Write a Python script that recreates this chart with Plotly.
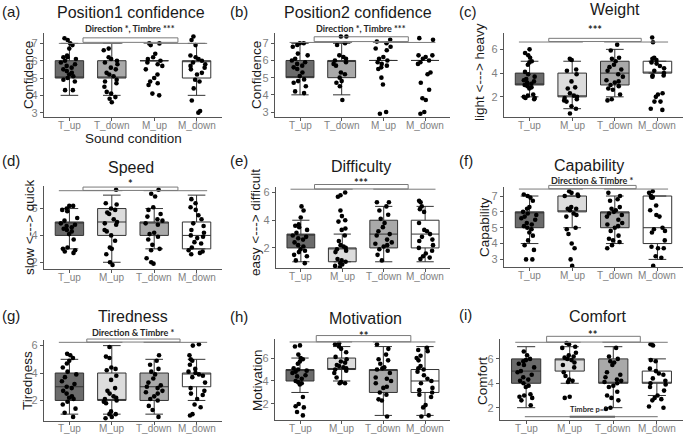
import plotly.graph_objects as go

W, H = 685, 436

# ---------------- categories & colours ----------------
order_a = ["T_up", "T_down", "M_up", "M_down"]          # panels (a), (b)
order_b = ["T_up", "M_up", "T_down", "M_down"]          # panels (c)-(i)
fills = {"T_up": "#6b6b6b", "T_down": "#a9a9a9", "M_up": "#dcdcdc", "M_down": "#ffffff"}

# ---------------- (a) Position1 confidence ----------------
a_q1 = [5, 5, 6, 5]; a_med = [5, 5, 6, 6]; a_q3 = [6, 6, 6, 6]; a_lo = [4, 4, 6, 4]; a_hi = [7, 7, 6, 7]
a_T_up = [7.3, 7.2, 7.0, 6.9, 6.7, 6.3, 6.2, 6.2, 6.1, 6.0, 5.9, 5.8, 5.7, 5.6, 5.5, 5.4, 5.3, 5.2, 5.1, 5.0, 4.9, 4.8, 4.3, 4.3]
a_T_down = [6.7, 6.6, 6.2, 6.1, 6.0, 5.9, 5.8, 5.6, 5.5, 5.3, 5.2, 5.1, 4.9, 4.8, 4.7, 4.5, 4.2, 4.1, 3.9, 3.8, 3.6]
a_M_up = [7.0, 6.9, 7.0, 6.4, 6.2, 6.1, 6.0, 5.9, 5.8, 5.7, 5.5, 5.2, 5.0, 4.8, 4.7, 4.6, 4.1, 4.0]
a_M_down = [7.4, 7.2, 6.9, 6.3, 6.2, 6.1, 6.0, 5.9, 5.8, 5.7, 5.6, 5.5, 5.3, 5.2, 4.9, 4.8, 4.4, 3.7, 3.1, 3.0]

# ---------------- (b) Position2 confidence ----------------
b_q1 = [5, 5, 6, 6]; b_med = [5, 6, 6, 6]; b_q3 = [6, 6, 6, 6]; b_lo = [4, 4, 6, 6]; b_hi = [7, 7, 6, 6]
b_T_up = [7.0, 7.0, 6.9, 6.8, 6.4, 6.3, 6.1, 6.0, 5.9, 5.8, 5.7, 5.6, 5.5, 5.3, 5.1, 4.9, 4.8, 4.7, 4.5, 4.2, 4.1]
b_T_down = [7.4, 7.4, 7.0, 6.9, 6.3, 6.2, 6.1, 6.0, 5.9, 5.8, 5.7, 5.3, 5.2, 5.0, 4.8, 4.7, 4.5, 3.7]
b_M_up = [7.2, 7.1, 7.0, 6.8, 6.7, 6.6, 6.2, 6.1, 6.0, 5.9, 5.8, 5.7, 5.6, 5.5, 5.0, 4.6, 3.0, 2.9]
b_M_down = [7.3, 7.2, 6.3, 6.3, 6.2, 6.1, 6.0, 5.9, 5.8, 5.3, 5.2, 4.7, 4.3, 3.8, 3.7, 3.0, 2.9]

# ---------------- (c) Weight ----------------
c_q1 = [3, 2, 3, 4]; c_med = [3, 2, 4, 4]; c_q3 = [4, 4, 5, 5]; c_lo = [2, 1, 2, 4]; c_hi = [5, 5, 6, 5]
c_T_up = [6.0, 5.7, 5.5, 5.3, 5.0, 4.9, 4.7, 4.1, 3.9, 3.7, 3.5, 3.4, 3.3, 3.2, 3.1, 3.0, 2.9, 2.8, 2.7, 2.2, 2.1, 2.0, 1.9, 1.9, 1.8]
c_M_up = [5.2, 5.1, 4.3, 4.2, 3.9, 3.3, 2.8, 2.7, 2.3, 2.1, 2.0, 1.9, 1.8, 1.7, 1.6, 1.2, 1.0, 0.6]
c_T_down = [6.4, 5.9, 5.3, 5.2, 5.0, 4.7, 4.5, 4.3, 4.2, 3.9, 3.7, 3.4, 3.3, 3.2, 3.0, 2.9, 2.7, 2.6, 2.2, 1.8, 1.7]
c_M_down = [7.0, 6.6, 5.3, 5.2, 5.1, 4.9, 4.8, 4.6, 4.4, 4.2, 4.0, 3.8, 3.8, 3.7, 2.3, 2.2, 2.0, 1.6, 1.6, 1.0, 0.9]

# ---------------- (d) Speed ----------------
d_q1 = [4, 4, 4, 3]; d_med = [5, 5, 5, 4]; d_q3 = [5, 6, 5, 5]; d_lo = [3, 2, 3, 3]; d_hi = [6, 7, 6, 7]
d_T_up = [6.2, 6.2, 6.0, 5.9, 5.8, 5.3, 5.1, 4.9, 4.8, 4.7, 4.6, 4.5, 4.4, 4.3, 4.1, 3.7, 3.1, 3.0, 2.9, 2.8, 2.7]
d_M_up = [7.4, 6.4, 6.3, 6.0, 5.9, 5.7, 5.6, 5.2, 5.0, 4.9, 4.8, 4.4, 4.3, 4.0, 3.6, 3.1, 3.0, 2.6, 2.0, 1.8]
d_T_down = [7.4, 7.1, 6.9, 6.1, 5.9, 5.6, 5.4, 5.2, 5.1, 4.9, 4.8, 4.2, 4.1, 3.9, 3.7, 3.3, 3.0, 2.9, 2.3, 2.0, 1.9]
d_M_down = [6.7, 6.4, 6.1, 5.9, 5.5, 5.2, 4.9, 4.7, 4.4, 4.2, 4.0, 3.9, 3.8, 3.5, 3.4, 3.1, 2.9, 2.8, 2.7, 2.6]

# ---------------- (e) Difficulty ----------------
e_q1 = [2, 1, 2, 2]; e_med = [3, 2, 3, 3]; e_q3 = [3, 2, 4, 4]; e_lo = [1, 1, 1, 1]; e_hi = [4, 3, 5, 5]
e_T_up = [5.0, 4.7, 4.2, 3.7, 3.6, 3.5, 3.3, 3.1, 2.9, 2.8, 2.7, 2.6, 2.4, 2.2, 2.1, 1.9, 1.8, 1.7, 1.5, 1.4, 1.1, 0.9]
e_M_up = [6.0, 5.8, 5.7, 4.7, 4.3, 4.0, 3.9, 3.4, 3.3, 2.9, 2.5, 2.2, 2.1, 2.0, 1.9, 1.8, 1.7, 1.2, 1.1, 1.0, 0.9, 0.8, 0.7, 0.6]
e_T_down = [5.3, 5.3, 5.0, 4.7, 4.4, 4.1, 3.8, 3.5, 3.2, 3.0, 2.9, 2.6, 2.4, 2.3, 2.2, 2.1, 1.9, 1.8, 1.5, 1.1]
e_M_down = [5.4, 5.3, 5.0, 4.8, 4.6, 3.8, 3.3, 3.2, 3.0, 2.8, 2.6, 2.5, 2.2, 2.0, 1.8, 1.6, 1.4, 1.3, 1.2]

# ---------------- (f) Capability ----------------
f_q1 = [5, 6, 5, 4]; f_med = [6, 6, 6, 5]; f_q3 = [6, 7, 6, 7]; f_lo = [4, 5, 4, 3]; f_hi = [7, 7, 7, 7]
f_T_up = [7.1, 7.0, 6.9, 6.7, 6.3, 6.2, 6.0, 5.9, 5.8, 5.7, 5.6, 5.5, 5.3, 5.2, 5.1, 5.0, 4.9, 4.7, 4.5, 4.2, 3.9, 3.6, 3.0, 3.0]
f_M_up = [7.3, 7.2, 7.1, 7.0, 7.0, 6.3, 6.2, 6.2, 6.1, 5.9, 5.8, 5.7, 5.0, 4.9, 4.6, 4.0, 3.7, 3.0, 2.6]
f_T_down = [7.2, 7.0, 6.8, 6.7, 6.3, 6.2, 6.1, 6.0, 5.9, 5.8, 5.7, 5.5, 5.3, 5.2, 5.1, 5.0, 4.8, 4.5, 4.3, 4.2, 4.1, 3.9, 3.7]
f_M_down = [7.3, 7.2, 7.0, 6.9, 6.9, 6.4, 6.1, 5.8, 5.7, 5.0, 4.9, 4.8, 4.7, 4.2, 3.8, 3.7, 3.7, 3.2, 3.1, 2.6]

# ---------------- (g) Tiredness ----------------
g_q1 = [2, 2, 2, 3]; g_med = [3, 2, 3, 4]; g_q3 = [4, 4, 4, 4]; g_lo = [1, 1, 1, 2]; g_hi = [5, 6, 5, 5]
g_T_up = [5.4, 5.3, 5.1, 4.9, 4.7, 4.4, 4.1, 3.9, 3.7, 3.4, 3.2, 3.0, 2.9, 2.7, 2.5, 2.3, 2.2, 2.1, 1.9, 1.7, 1.4, 1.1, 0.8]
g_M_up = [5.9, 5.2, 5.1, 4.4, 4.3, 4.2, 3.8, 3.5, 2.9, 2.7, 2.5, 2.3, 2.2, 2.1, 2.0, 1.9, 1.8, 1.2, 1.0, 1.0, 0.8, 0.7]
g_T_down = [5.3, 4.9, 4.6, 4.3, 4.1, 3.9, 3.6, 3.3, 3.1, 3.0, 2.9, 2.7, 2.6, 2.5, 2.3, 2.1, 2.0, 1.6, 1.3, 0.8]
g_M_down = [6.1, 6.0, 5.3, 5.0, 4.9, 4.6, 4.3, 4.1, 4.0, 3.9, 3.8, 3.7, 3.3, 2.9, 2.7, 2.5, 2.4, 2.1, 1.7, 1.5, 1.0, 0.9]

# ---------------- (h) Motivation ----------------
h_q1 = [4, 5, 3, 3]; h_med = [5, 5, 5, 4]; h_q3 = [5, 6, 5, 5]; h_lo = [3, 4, 1, 1]; h_hi = [6, 7, 7, 7]
h_T_up = [7.1, 7.0, 6.3, 6.0, 5.9, 5.7, 5.5, 5.1, 5.0, 4.9, 4.8, 4.7, 4.5, 4.4, 4.2, 4.0, 3.9, 3.8, 3.7, 2.6, 2.0, 1.8, 1.7, 1.3, 1.0]
h_M_up = [7.3, 7.2, 7.0, 6.8, 6.5, 6.1, 5.9, 5.7, 5.6, 5.4, 5.3, 5.2, 5.1, 5.0, 4.9, 4.7, 4.3, 3.9, 3.8, 3.8]
h_T_down = [7.2, 6.8, 6.3, 5.9, 5.8, 5.5, 5.2, 5.1, 5.0, 4.7, 4.3, 4.2, 4.0, 3.8, 3.5, 3.4, 3.0, 2.8, 2.4, 2.3, 0.9]
h_M_down = [6.9, 6.7, 6.6, 6.2, 6.0, 5.8, 5.3, 5.1, 5.0, 4.8, 4.5, 4.2, 4.0, 3.8, 3.4, 3.2, 3.0, 2.8, 2.6, 1.9, 1.7, 1.0, 0.9]

# ---------------- (i) Comfort ----------------
i_q1 = [4, 5, 4, 4]; i_med = [5, 6, 4, 4]; i_q3 = [6, 6, 6, 5]; i_lo = [2, 4, 2, 3]; i_hi = [7, 7, 7, 6]
i_T_up = [6.6, 6.3, 6.0, 5.9, 5.8, 5.6, 5.5, 5.3, 5.0, 4.9, 4.7, 4.5, 4.3, 4.2, 4.0, 3.8, 3.7, 3.1, 3.0, 2.9, 2.8, 2.6, 2.2]
i_M_up = [7.3, 7.2, 7.0, 6.9, 6.5, 6.3, 6.2, 6.1, 6.0, 5.9, 5.7, 5.5, 5.3, 4.9, 4.6, 4.3, 4.2, 4.1, 2.9, 2.8]
i_T_down = [6.9, 6.2, 6.0, 5.8, 5.7, 5.5, 4.9, 4.7, 4.5, 4.3, 4.2, 4.1, 4.0, 3.8, 3.7, 3.3, 3.0, 2.8, 2.6, 2.0, 1.9]
i_M_down = [7.2, 7.2, 7.1, 5.9, 5.8, 5.2, 5.0, 4.8, 4.7, 4.4, 4.2, 4.0, 3.9, 3.7, 3.4, 3.0, 2.8, 2.7, 2.6, 2.1, 2.0]

titles = ["Position1 confidence", "Position2 confidence", "Weight", "Speed", "Difficulty",
          "Capability", "Tiredness", "Motivation", "Comfort"]
ytitles = ["Confidence", "Confidence", "light <---> heavy", "slow <---> quick", "easy <---> difficult",
           "Capability", "Tiredness", "Motivation", "Comfort"]
labels = ["(a)", "(b)", "(c)", "(d)", "(e)", "(f)", "(g)", "(h)", "(i)"]
sig_texts = ["Direction *, Timbre ***", "Direction *, Timbre ***", "***", "*", "***",
             "Direction & Timbre *", "Direction & Timbre *", "**", "**"]

stats = [
    (order_a, a_q1, a_med, a_q3, a_lo, a_hi, [a_T_up, a_T_down, a_M_up, a_M_down]),
    (order_a, b_q1, b_med, b_q3, b_lo, b_hi, [b_T_up, b_T_down, b_M_up, b_M_down]),
    (order_b, c_q1, c_med, c_q3, c_lo, c_hi, [c_T_up, c_M_up, c_T_down, c_M_down]),
    (order_b, d_q1, d_med, d_q3, d_lo, d_hi, [d_T_up, d_M_up, d_T_down, d_M_down]),
    (order_b, e_q1, e_med, e_q3, e_lo, e_hi, [e_T_up, e_M_up, e_T_down, e_M_down]),
    (order_b, f_q1, f_med, f_q3, f_lo, f_hi, [f_T_up, f_M_up, f_T_down, f_M_down]),
    (order_b, g_q1, g_med, g_q3, g_lo, g_hi, [g_T_up, g_M_up, g_T_down, g_M_down]),
    (order_b, h_q1, h_med, h_q3, h_lo, h_hi, [h_T_up, h_M_up, h_T_down, h_M_down]),
    (order_b, i_q1, i_med, i_q3, i_lo, i_hi, [i_T_up, i_M_up, i_T_down, i_M_down]),
]

# ---------------- layout geometry (pixels) ----------------
geo = [
    (44, 222, 33, 117, [2.75, 7.6], [3, 4, 5, 6, 7]),
    (275, 450, 33, 117, [2.71, 7.6], [3, 4, 5, 6, 7]),
    (504, 683, 33, 117, [0.3, 7.38], [2, 4, 6]),
    (44, 222, 186, 269, [1.5, 7.68], [2, 4, 6]),
    (276, 450, 187, 268, [0.55, 6.4], [2, 4, 6]),
    (504, 683, 187, 267, [2.52, 7.57], [3, 4, 5, 6, 7]),
    (44, 222, 340, 421, [0.5, 6.41], [2, 4, 6]),
    (275, 450, 339, 420, [0.6, 7.66], [2, 4, 6]),
    (500, 683, 339, 420, [0.99, 7.63], [2, 4, 6]),
]
title_pos = [(131, 13), (358, 13), (615, 10), (131, 167), (361, 166), (589, 165), (133, 316), (365, 318), (597, 316)]
label_pos = [(0, 11), (228, 11), (457, 11), (0, 161), (228, 160), (457, 161), (0, 315), (228, 316), (457, 314)]
ytitle_pos = [(28, 75), (256, 75), (479, 72), (29, 227), (256, 222), (484, 227), (27, 381), (257, 380), (482, 381)]
brackets = [
    (1.32, 3.56, 7.06, 7.32, 7.0, 7.84),
    (1.34, 3.60, 7.10, 7.38, 7.05, 7.84),
    (1.45, 3.62, 6.66, 6.93, 6.62, 7.95),
    (1.32, 3.56, 7.35, 7.60, 7.33, 8.10),
    (1.33, 3.59, 6.26, 6.58, 6.24, 6.92),
    (1.45, 3.50, 7.46, 7.67, 7.44, 7.97),
    (1.41, 3.61, 6.26, 6.48, 6.24, 6.97),
    (1.39, 3.66, 7.42, 7.96, 7.40, 8.25),
    (1.47, 3.62, 7.38, 7.85, 7.36, 8.26),
]

XR = [-0.6, 3.6]
AXC = "#555555"
TICKC = "#7f7f7f"
FONT = "Liberation Sans, Arial, sans-serif"
SIGF = "Lato, Open Sans, sans-serif"


def px(x):
    return x / W


def py(y):
    return 1 - y / H


def dxf(p1):
    return (p1 - 1 - XR[0]) / (XR[1] - XR[0])


def dyf(v, rng):
    return (v - rng[0]) / (rng[1] - rng[0])


fig = go.Figure()
layout = dict(width=W, height=H, margin=dict(l=0, r=0, t=0, b=0), template="none",
              paper_bgcolor="white", plot_bgcolor="white", showlegend=False,
              boxmode="overlay", boxgap=0.33, boxgroupgap=0)
shapes = []
annotations = []

for k in range(9):
    n = k + 1
    sfx = "" if n == 1 else str(n)
    xa, ya = "x" + sfx, "y" + sfx
    cats, q1, med, q3, lo, hi, pts = stats[k]
    x0, x1, yt, yb, yr, tv = geo[k]

    for j, cat in enumerate(cats):
        fig.add_trace(go.Box(
            x=[cat], q1=[q1[j]], median=[med[j]], q3=[q3[j]],
            lowerfence=[lo[j]], upperfence=[hi[j]],
            xaxis=xa, yaxis=ya, fillcolor=fills[cat],
            line=dict(color="#333333", width=1), whiskerwidth=0.62,
            boxpoints=False, hoverinfo="skip"))

    pt_x = []
    pt_y = []
    for j, cat in enumerate(cats):
        pt_x += [cat] * len(pts[j])
        pt_y += pts[j]
    fig.add_trace(go.Box(
        x=pt_x, y=pt_y, xaxis=xa, yaxis=ya, boxpoints="all", jitter=0.62, pointpos=0,
        fillcolor="rgba(0,0,0,0)", line=dict(color="rgba(0,0,0,0)", width=0),
        whiskerwidth=0, marker=dict(color="black", size=4.6), hoverinfo="skip"))

    layout["xaxis" + sfx] = dict(
        domain=[px(x0), px(x1)], anchor=ya, type="category",
        categoryorder="array", categoryarray=cats, range=XR,
        showline=True, linecolor=AXC, linewidth=1.1, ticks="outside", ticklen=2.5,
        tickcolor=AXC, tickwidth=1, showticklabels=False,
        showgrid=False, zeroline=False, automargin=False)
    layout["yaxis" + sfx] = dict(
        domain=[py(yb), py(yt)], anchor=xa, range=yr, tickvals=tv,
        showline=True, linecolor=AXC, linewidth=1.1, ticks="outside", ticklen=3,
        tickcolor=AXC, tickwidth=1, tickfont=dict(family=FONT, size=11, color=TICKC),
        showgrid=False, zeroline=False, automargin=False)

    # category labels under the axis
    lab_y = min(yb + 8.5, 428.3)
    for cat in cats:
        annotations.append(dict(xref=xa, yref="paper", x=cat, y=py(lab_y), text=cat,
                                showarrow=False, xanchor="center", yanchor="middle",
                                font=dict(family=FONT, size=10, color=TICKC)))

    # significance bracket
    l0, l1, rb, rt, low, ty = brackets[k]
    lc = dict(color="#7a7a7a", width=1)
    xd, yd = xa + " domain", ya + " domain"
    shapes.append(dict(type="rect", xref=xd, yref=yd, x0=dxf(l0), x1=dxf(l1),
                       y0=dyf(rb, yr), y1=dyf(rt, yr), line=lc, fillcolor="rgba(0,0,0,0)"))
    for a0, a1 in [(0.75, 2.25), (2.75, 4.25)]:
        shapes.append(dict(type="line", xref=xd, yref=yd, x0=dxf(a0), x1=dxf(a1),
                           y0=dyf(low, yr), y1=dyf(low, yr), line=lc))
    star_only = set(sig_texts[k]) == {"*"}
    annotations.append(dict(xref=xd, yref=yd, x=dxf((l0 + l1) / 2), y=dyf(ty, yr),
                            text=f"<b>{sig_texts[k]}</b>", showarrow=False,
                            xanchor="center", yanchor="middle", yshift=-3 if star_only else 0,
                            font=dict(family=SIGF, size=11 if star_only else 9, color="#262626")))

    tx, tyy = title_pos[k]
    annotations.append(dict(xref="paper", yref="paper", x=px(tx), y=py(tyy), text=titles[k],
                            showarrow=False, xanchor="center", yanchor="middle",
                            font=dict(family=FONT, size=16, color="#1a1a1a")))
    lx, ly = label_pos[k]
    annotations.append(dict(xref="paper", yref="paper", x=px(lx), y=py(ly), text=labels[k],
                            showarrow=False, xanchor="left", yanchor="middle",
                            font=dict(family=FONT, size=15, color="#1a1a1a")))
    yx, yy = ytitle_pos[k]
    annotations.append(dict(xref="paper", yref="paper", x=px(yx), y=py(yy), text=ytitles[k],
                            showarrow=False, xanchor="center", yanchor="middle", textangle=-90,
                            font=dict(family=FONT, size=13.5, color="#1a1a1a")))

annotations.append(dict(xref="paper", yref="paper", x=px(133), y=py(138), text="Sound condition",
                        showarrow=False, xanchor="center", yanchor="middle",
                        font=dict(family=FONT, size=13.5, color="#1a1a1a")))

yr9 = geo[8][4]
shapes.append(dict(type="line", xref="x9 domain", yref="y9 domain", x0=dxf(0.97), x1=dxf(4.02),
                   y0=dyf(1.27, yr9), y1=dyf(1.27, yr9), line=dict(color="#8a8a8a", width=1.2)))
shapes.append(dict(type="line", xref="x9 domain", yref="y9 domain", x0=dxf(2.0), x1=dxf(3.04),
                   y0=dyf(1.25, yr9), y1=dyf(1.25, yr9), line=dict(color="#666666", width=2)))
annotations.append(dict(xref="x9 domain", yref="y9 domain", x=dxf(2.42), y=dyf(1.88, yr9),
                        text="<b>Timbre p=*</b>", showarrow=False, xanchor="center", yanchor="middle",
                        font=dict(family=SIGF, size=7.5, color="#262626")))

layout["shapes"] = shapes
layout["annotations"] = annotations
fig.update_layout(**layout)
fig.write_html("out.html", config={"displayModeBar": False, "staticPlot": True},
               post_script="document.body.style.margin='0';document.body.style.overflow='hidden';")
